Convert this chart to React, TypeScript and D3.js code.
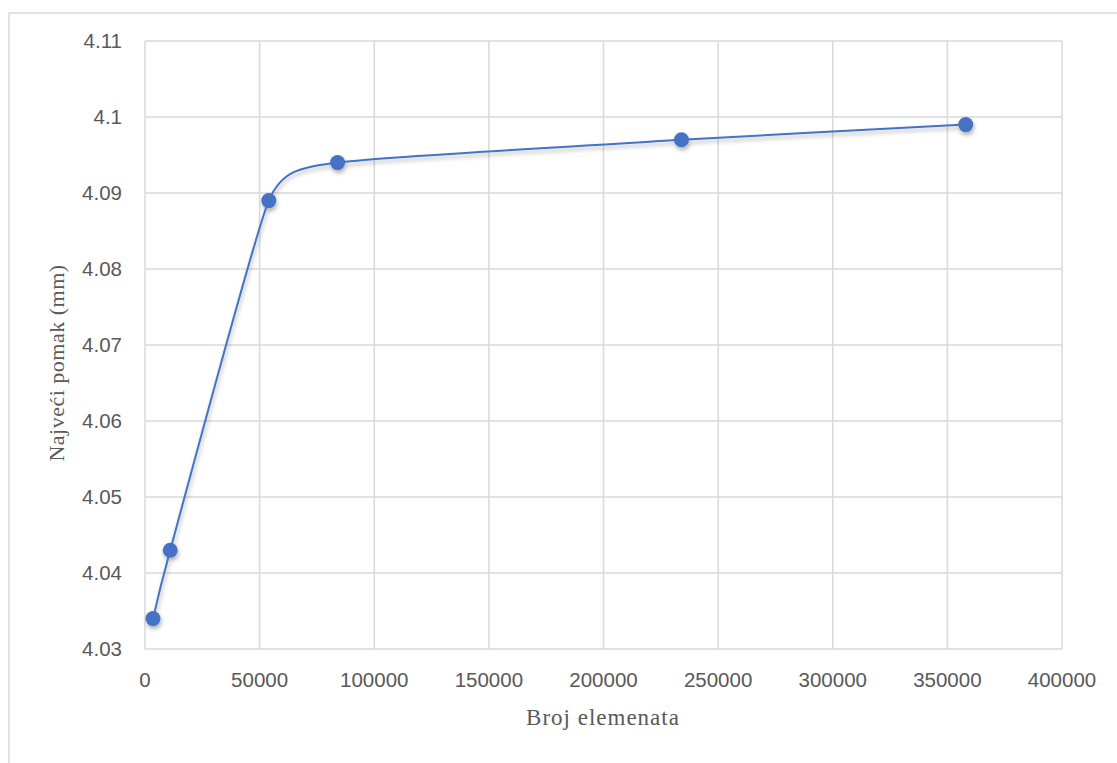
import React from "react";
import * as d3 from "d3";

const elementCounts = [3500, 11000, 54000, 84000, 234000, 358000];
const maxDisplacement = [4.034, 4.043, 4.089, 4.094, 4.097, 4.099];
const xTicks = [0, 50000, 100000, 150000, 200000, 250000, 300000, 350000, 400000];
const yTicks = [4.03, 4.04, 4.05, 4.06, 4.07, 4.08, 4.09, 4.1, 4.11];
const xTitle = "Broj elemenata";
const yTitle = "Najveći pomak (mm)";

const W = 1117;
const H = 763;
const plot = { left: 145, right: 1062, top: 41, bottom: 649 };

export default function App() {
  const x = d3.scaleLinear().domain([0, 400000]).range([plot.left, plot.right]);
  const y = d3.scaleLinear().domain([4.03, 4.11]).range([plot.bottom, plot.top]);
  const pts: [number, number][] = elementCounts.map((c, i) => [x(c), y(maxDisplacement[i])]);
  const line = d3.line().curve(d3.curveCardinal.tension(0.5))(pts) || "";
  const grid = "#d9d9d9";
  const blue = "#4472C4";
  const tickFont = "'Liberation Sans', Arial, sans-serif";
  const titleFont = "'Liberation Serif', 'Times New Roman', serif";

  return (
    <svg width={W} height={H} style={{ position: "absolute", left: 0, top: 0, background: "#fff" }}>
      <defs>
        <filter id="sh" x="-50%" y="-50%" width="200%" height="200%">
          <feDropShadow dx="1" dy="3" stdDeviation="2" floodColor="#000" floodOpacity="0.3" />
        </filter>
      </defs>
      <rect x={9} y={13} width={W + 20} height={H + 20} fill="#fff" stroke={grid} strokeWidth={1.5} />
      {yTicks.map((t) => (
        <line key={"gy" + t} x1={plot.left} x2={plot.right} y1={y(t)} y2={y(t)} stroke={grid} strokeWidth={1.5} />
      ))}
      {xTicks.map((t) => (
        <line key={"gx" + t} x1={x(t)} x2={x(t)} y1={plot.top} y2={plot.bottom} stroke={grid} strokeWidth={1.5} />
      ))}
      {yTicks.map((t) => (
        <text key={"ly" + t} x={122} y={y(t)} dy="0.36em" textAnchor="end" fontFamily={tickFont} fontSize={20.5} fill="#595959">
          {d3.format("~g")(t)}
        </text>
      ))}
      {xTicks.map((t) => (
        <text key={"lx" + t} x={x(t)} y={687} textAnchor="middle" fontFamily={tickFont} fontSize={20.5} fill="#595959">
          {String(t)}
        </text>
      ))}
      <g filter="url(#sh)">
        <path d={line} fill="none" stroke={blue} strokeWidth={2} />
        {pts.map((p, i) => (
          <circle key={"m" + i} cx={p[0]} cy={p[1]} r={7.5} fill={blue} />
        ))}
      </g>
      <text x={603} y={725} textAnchor="middle" fontFamily={titleFont} fontSize={23} letterSpacing={1} fill="#595959">
        {xTitle}
      </text>
      <text transform={`translate(64,${363}) rotate(-90)`} textAnchor="middle" fontFamily={titleFont} fontSize={22} letterSpacing={0.5} fill="#595959">
        {yTitle}
      </text>
    </svg>
  );
}
